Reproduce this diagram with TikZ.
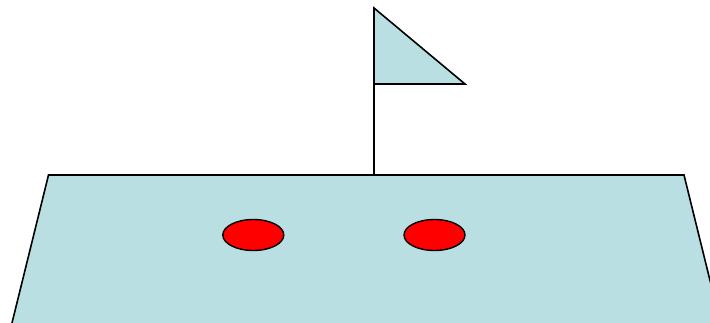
\documentclass[tikz,border=0pt]{standalone}
\definecolor{fieldblue}{RGB}{185,223,227}
\definecolor{ballred}{RGB}{255,0,0}
\tikzset{
  shapeline/.style={draw=black, line width=1.6pt, line join=miter},
  ball/.style={ellipse, draw=black, line width=1.4pt, fill=ballred, minimum width=61pt, minimum height=31pt, inner sep=0pt},
}
\usetikzlibrary{shapes.geometric}
\begin{document}
\begin{tikzpicture}[x=1pt,y=-1pt]
\useasboundingbox (0,0) rectangle (710,323);
\clip (0,0) rectangle (710,323);
\fill[white] (0,0) rectangle (710,323);
\filldraw[shapeline, fill=fieldblue] (48.5,175) -- (684,175) -- (721,325) -- (11.5,325) -- cycle;
\coordinate (poletop) at (374,8);
\coordinate (polebase) at (374,175);
\coordinate (flagcorner) at (374,84);
\coordinate (flagtip) at (465,84);
\filldraw[shapeline, fill=fieldblue] (poletop) -- (flagtip) -- (flagcorner) -- cycle;
\draw[shapeline] (poletop) -- (polebase);
\node[ball] (ballA) at (253.3,235) {};
\node[ball] (ballB) at (434.5,235) {};
\end{tikzpicture}
\end{document}
